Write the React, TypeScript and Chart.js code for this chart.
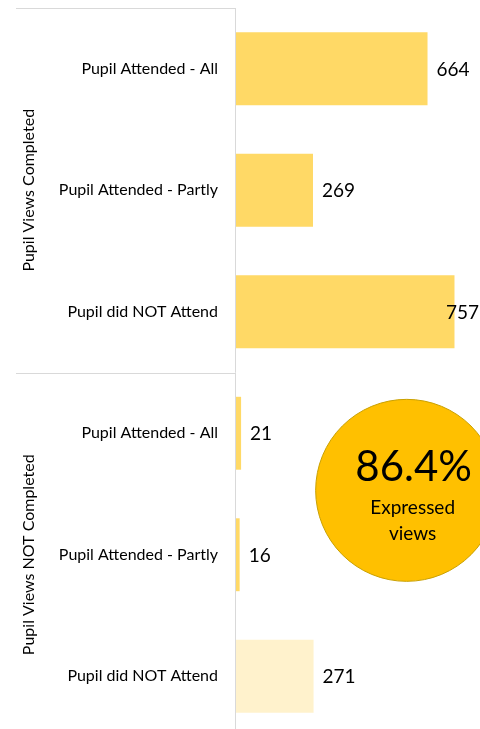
import React, { useEffect, useRef } from "react";
import { Chart, registerables } from "chart.js";

Chart.register(...registerables);

const categories = [
  "Pupil Attended - All",
  "Pupil Attended - Partly",
  "Pupil did NOT Attend",
  "Pupil Attended - All",
  "Pupil Attended - Partly",
  "Pupil did NOT Attend",
];
const values = [664, 269, 757, 21, 16, 271];
const barColors = ["#FFD966", "#FFD966", "#FFD966", "#FFD966", "#FFD966", "#FFF2CC"];
const groups = ["Pupil Views Completed", "Pupil Views NOT Completed"];
const groupSizes = [3, 3];
const badgeValue = "86.4%";
const badgeLines = ["Expressed", "views"];

const FONT = "Lato, 'Open Sans', sans-serif";

const overlay = {
  id: "overlay",
  afterDraw(chart: any) {
    const { ctx, chartArea, scales } = chart;
    const x = scales.x;
    const y = scales.y;
    ctx.save();
    ctx.strokeStyle = "#d9d9d9";
    ctx.lineWidth = 1;
    const left = Math.round(chartArea.left) + 0.5;
    ctx.beginPath();
    ctx.moveTo(left, chartArea.top);
    ctx.lineTo(left, chartArea.bottom);
    ctx.stroke();
    const step = y.getPixelForValue(1) - y.getPixelForValue(0);
    let idx = 0;
    const bounds: number[] = [];
    for (let g = 0; g < groups.length; g++) {
      bounds.push(y.getPixelForValue(idx) - step / 2);
      idx += groupSizes[g];
    }
    bounds.push(y.getPixelForValue(idx - 1) + step / 2);
    for (const b of bounds) {
      const yy = Math.round(b) + 0.5;
      ctx.beginPath();
      ctx.moveTo(16, yy);
      ctx.lineTo(left, yy);
      ctx.stroke();
    }
    ctx.fillStyle = "#000";
    ctx.font = `16px ${FONT}`;
    ctx.textAlign = "center";
    ctx.textBaseline = "middle";
    for (let g = 0; g < groups.length; g++) {
      const cy = (bounds[g] + bounds[g + 1]) / 2;
      ctx.save();
      ctx.translate(29, cy);
      ctx.rotate(-Math.PI / 2);
      ctx.fillText(groups[g], 0, 0);
      ctx.restore();
    }
    ctx.font = `19px ${FONT}`;
    ctx.textAlign = "left";
    const meta = chart.getDatasetMeta(0);
    meta.data.forEach((bar: any, i: number) => {
      const txt = String(values[i]);
      const w = ctx.measureText(txt).width;
      let tx = bar.x + 9;
      if (tx + w > chart.width - 1) tx = chart.width - 1 - w;
      ctx.fillText(txt, tx, bar.y + 1);
    });
    const cx = x.getPixelForValue(592);
    const cy = y.getPixelForValue(3.47);
    const r = 91;
    ctx.beginPath();
    ctx.arc(cx, cy, r, 0, Math.PI * 2);
    ctx.fillStyle = "#FFC000";
    ctx.fill();
    ctx.strokeStyle = "#C9A000";
    ctx.lineWidth = 1;
    ctx.stroke();
    ctx.fillStyle = "#000";
    ctx.textAlign = "center";
    ctx.font = `42px ${FONT}`;
    ctx.fillText(badgeValue, cx + 7, cy - 23);
    ctx.font = `19px ${FONT}`;
    ctx.fillText(badgeLines[0], cx + 6, cy + 18);
    ctx.fillText(badgeLines[1], cx + 6, cy + 44);
    ctx.restore();
  },
};

export default function App() {
  const ref = useRef<HTMLCanvasElement>(null);
  useEffect(() => {
    if (!ref.current) return;
    const chart = new Chart(ref.current, {
      type: "bar",
      data: {
        labels: categories,
        datasets: [
          {
            data: values,
            backgroundColor: barColors,
            barPercentage: 0.6,
            categoryPercentage: 1,
          },
        ],
      },
      options: {
        indexAxis: "y",
        animation: false,
        responsive: true,
        maintainAspectRatio: false,
        layout: { padding: { top: 8, bottom: 8, left: 0, right: 0 } },
        plugins: { legend: { display: false }, tooltip: { enabled: false } },
        scales: {
          x: { display: false, min: 0, max: 845 },
          y: {
            grid: {
              display: true,
              drawOnChartArea: false,
              drawTicks: true,
              tickLength: 17,
              color: "rgba(0,0,0,0)",
              tickColor: "rgba(0,0,0,0)",
            },
            border: { display: false },
            ticks: { color: "#000", font: { family: FONT, size: 16 }, padding: 0 },
            afterFit: (scale: any) => {
              scale.width = 235;
              scale.paddingTop = 0;
              scale.paddingBottom = 0;
            },
          },
        },
      } as any,
      plugins: [overlay],
    });
    return () => chart.destroy();
  }, []);
  return (
    <div style={{ position: "absolute", left: 0, top: 0, width: 480, height: 745 }}>
      <canvas ref={ref} />
    </div>
  );
}
